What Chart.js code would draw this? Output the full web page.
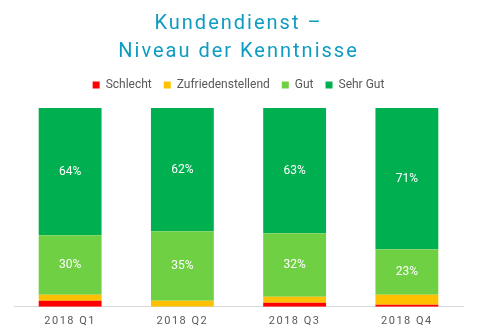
<!DOCTYPE html>
<html>
<head>
<meta charset="utf-8">
<script src="https://cdn.jsdelivr.net/npm/chart.js@4/dist/chart.umd.min.js"></script>
<style>
html,body{margin:0;padding:0;background:#fff;}
#wrap{width:479px;height:336px;position:relative;}
</style>
</head>
<body>
<div id="wrap"><canvas id="c"></canvas></div>
<script>
const categories = ['2018 Q1', '2018 Q2', '2018 Q3', '2018 Q4'];
const seriesNames = ['Schlecht', 'Zufriedenstellend', 'Gut', 'Sehr Gut'];
const schlecht = [3, 0, 2, 1];
const zufrieden = [3, 3, 3, 5];
const gut = [30, 35, 32, 23];
const sehrGut = [64, 62, 63, 71];
const titleLines = ['Kundendienst \u2013', 'Niveau der Kenntnisse'];
const colors = ['#FF0000', '#FFC000', '#70D044', '#00B050'];
const labeledSeries = [2, 3];

Chart.defaults.font.family = 'Roboto, "Noto Sans", sans-serif';

const spacingPlugin = {
  id: 'spacing',
  beforeLayout(chart) {
    const lg = chart.legend;
    if (lg && !lg._patched) {
      const orig = lg.fit;
      lg.fit = function() { orig.call(this); this.height += 7; };
      lg._patched = true;
    }
  },
  beforeDraw(chart) {
    const ctx = chart.ctx;
    const tb = chart.titleBlock;
    if (tb && !tb._patched) {
      const o = tb.draw;
      tb.draw = function(a) { ctx.save(); ctx.letterSpacing = '2px'; o.call(this, a); ctx.restore(); };
      tb._patched = true;
    }
    const x = chart.scales.x;
    if (x && !x._patched) {
      const o2 = x.drawLabels;
      x.drawLabels = function(a) { ctx.save(); ctx.letterSpacing = '1.5px'; o2.call(this, a); ctx.restore(); };
      x._patched = true;
    }
  }
};

const labelPlugin = {
  id: 'segLabels',
  afterDatasetsDraw(chart) {
    const ctx = chart.ctx;
    ctx.save();
    ctx.font = '12px Roboto, sans-serif';
    ctx.fillStyle = '#FFFFFF';
    ctx.textAlign = 'center';
    ctx.textBaseline = 'middle';
    labeledSeries.forEach(di => {
      const meta = chart.getDatasetMeta(di);
      meta.data.forEach((el, i) => {
        const v = chart.data.datasets[di].data[i];
        const cy = (el.y + el.base) / 2;
        ctx.fillText(v + '%', el.x, cy);
      });
    });
    ctx.restore();
  }
};

const allData = [schlecht, zufrieden, gut, sehrGut];

new Chart(document.getElementById('c'), {
  type: 'bar',
  data: {
    labels: categories,
    datasets: seriesNames.map((n, i) => ({
      label: n,
      data: allData[i],
      backgroundColor: colors[i],
      borderWidth: 0,
      categoryPercentage: 1,
      barPercentage: 0.56
    }))
  },
  options: {
    responsive: true,
    maintainAspectRatio: false,
    animation: false,
    layout: { padding: { left: 14, right: 16, top: 0, bottom: 0 } },
    plugins: {
      title: {
        display: true,
        text: titleLines,
        color: '#0E9CC0',
        font: { size: 20, weight: 'normal', lineHeight: 1.4 },
        padding: { top: 10, bottom: 1 }
      },
      legend: {
        display: true,
        labels: {
          color: '#595959',
          font: { size: 12 },
          boxWidth: 7,
          boxHeight: 7,
          padding: 12
        }
      },
      tooltip: { enabled: false }
    },
    scales: {
      x: {
        stacked: true,
        grid: { display: true, drawOnChartArea: false, drawTicks: false },
        border: { display: true, color: '#D9D9D9', width: 1 },
        ticks: { color: '#595959', font: { size: 11 }, padding: 8 }
      },
      y: {
        stacked: true,
        display: false,
        min: 0,
        max: 100
      }
    }
  },
  plugins: [spacingPlugin, labelPlugin]
});
</script>
</body>
</html>
